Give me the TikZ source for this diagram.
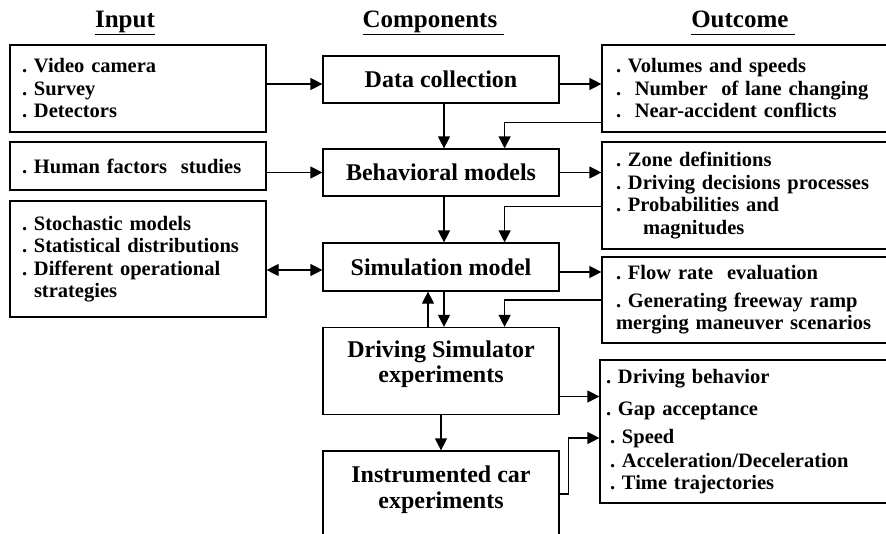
\documentclass[tikz,border=0pt]{standalone}
\usepackage{fontspec}
\setmainfont{Liberation Serif}
\frenchspacing
\usetikzlibrary{arrows.meta,positioning}
\tikzstyle{head} = [font=\fontsize{25}{28}\selectfont\bfseries,inner sep=0]
\tikzstyle{listbox} = [draw,line width=1.2pt,rectangle,inner ysep=0,align=left,font=\fontsize{20.5}{22.5}\selectfont\bfseries]
\tikzstyle{inbox} = [listbox,text width=232pt,inner xsep=12pt]
\tikzstyle{outbox} = [listbox,text width=270pt,inner xsep=14pt]
\tikzstyle{comp} = [draw,line width=1.2pt,rectangle,inner sep=0,minimum width=236pt,minimum height=47pt,font=\fontsize{24}{25.5}\selectfont\bfseries,align=center]
\tikzstyle{comptext} = [inner sep=0,font=\fontsize{24}{25.5}\selectfont\bfseries,align=center]
\tikzstyle{flow} = [-{Triangle[length=12pt,width=12pt]},line width=1.2pt]
\tikzstyle{both} = [{Triangle[length=12pt,width=12pt]}-{Triangle[length=12pt,width=12pt]},line width=1.2pt]
\def \gap {55pt}

\begin{document}
\begin{tikzpicture}[x=1pt,y=-1pt]
  \useasboundingbox (0,0) rectangle (886,533);
  \clip (0,0) rectangle (886,533);
  % column heads
  \node[head,anchor=base] (hin) at (125,27) {\underline{Input}};
  \node[head,anchor=base] (hcomp) at (433,27) {\underline{Components~}};
  \node[head,anchor=base] (hout) at (743,27) {\underline{Outcome\vphantom{p}~}};
  % input
  \node[inbox,minimum height=87pt] (cam) at (138,88.5) {. Video camera\\. Survey\\. Detectors};
  \node[inbox,minimum height=48pt] (hum) at (138,166) {. Human factors~~studies};
  \node[inbox,minimum height=116pt] (sto) at (138,259) {. Stochastic models\\. Statistical distributions\\. Different operational\\\hspace*{12pt}strategies};
  % components
  \node[comp] (dc) at (441,79.5) {Data collection};
  \node[comp] (bm) at (441,172.5) {Behavioral models};
  \node[comp,minimum height=48pt] (sim) at (441,267) {Simulation model};
  \node[comp,minimum height=87pt] (ds) at (441,371) {};
  \node[comptext] (dst) at (441,364) {Driving Simulator\\experiments};
  \node[comp,minimum height=100pt] (ic) at (441,501) {};
  \node[comptext] (ict) at (441,489.5) {Instrumented car\\experiments};
  % outcome
  \node[outbox,minimum height=87pt] (vol) at (751,88.5) {. Volumes and speeds\\.~~Number~~of lane changing\\.~~Near-accident conflicts};
  \node[outbox,minimum height=107pt] (zone) at (751,195.5) {. Zone definitions\\. Driving decisions processes\\. Probabilities and\\\hspace*{27pt}magnitudes};
  \node[outbox,minimum height=86pt] (rate) at (751,300) {. Flow rate~~evaluation\\[5pt]. Generating freeway ramp\\merging maneuver scenarios};
  \node[outbox,text width=288pt,inner xsep=6pt,minimum height=143pt] (drv) at (750,431.5) {. Driving behavior\\[9.5pt]. Gap acceptance\\[5.5pt]\hspace*{4pt}. Speed\\[1.5pt]\hspace*{4pt}. Acceleration/Deceleration\\\hspace*{4pt}. Time trajectories};
  % input -> components
  \draw[flow] ([yshift=-4.5pt]cam.east |- dc.west) -- ([yshift=-4.5pt]dc.west);
  \draw[flow] (hum.east |- bm.west) -- (bm.west);
  \draw[both] ([yshift=-3pt]sto.east |- sim.west) -- ([yshift=-3pt]sim.west);
  % components -> outcome
  \draw[flow] ([yshift=-4.5pt]dc.east) -- ([yshift=-4.5pt]dc.east -| vol.west);
  \draw[flow] (bm.east) -- (bm.east -| zone.west);
  \draw[flow] ([yshift=-5pt]sim.east) -- ([yshift=-5pt]sim.east -| rate.west);
  \draw[flow] ([yshift=-25.5pt]ds.east) -- ([yshift=-25.5pt]ds.east -| drv.west);
  % down the middle
  \draw[flow] ([xshift=3pt]dc.south) -- ([xshift=3pt]bm.north);
  \draw[flow] ([xshift=3pt]bm.south) -- ([xshift=3pt]sim.north);
  \draw[flow] ([xshift=3pt]sim.south) -- ([xshift=3pt]ds.north);
  \draw[flow] ([xshift=-13pt]ds.north) -- ([xshift=-13pt]sim.south);
  \draw[flow] (ds.south) -- (ic.north);
  % outcome fed back
  \draw[flow] ([yshift=10pt]vol.south west) -| ([xshift=-\gap]bm.north east);
  \draw[flow] ([yshift=43pt]zone.south west) -| ([xshift=-\gap]sim.north east);
  \draw[flow] (rate.west) -| ([xshift=-\gap]ds.north east);
  \draw[flow] ([yshift=7pt]ic.east) -- ++(9,0) |- ([yshift=-6.5pt]drv.west);
\end{tikzpicture}
\end{document}
